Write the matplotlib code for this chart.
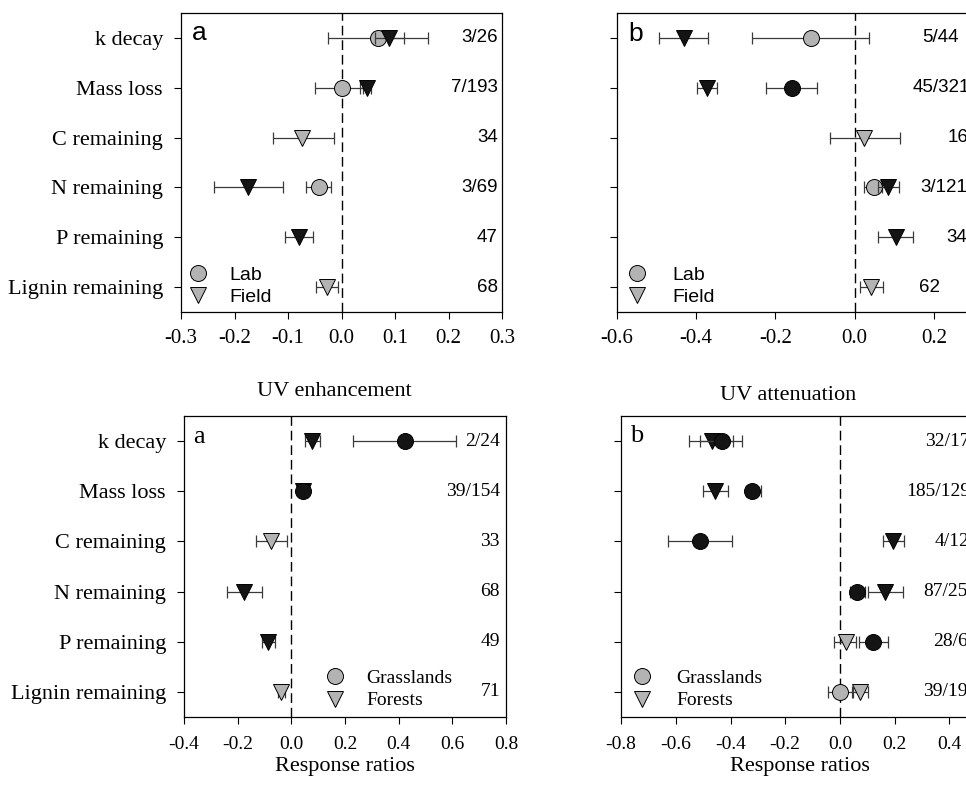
import numpy as np
import matplotlib
matplotlib.use("Agg")
import matplotlib.pyplot as plt
from matplotlib.lines import Line2D

nan = np.nan
SERIF = "Liberation Serif"
SANS = "Liberation Sans"

rows = ["k decay", "Mass loss", "C remaining", "N remaining", "P remaining", "Lignin remaining"]

# top-left panel (a): Lab (circles) vs Field (triangles)
lab_a_mean = [0.068, 0.0, nan, -0.042, nan, nan]
lab_a_lo = [-0.025, -0.05, nan, -0.067, nan, nan]
lab_a_hi = [0.162, 0.04, nan, -0.019, nan, nan]
lab_a_sig = [False, False, False, False, False, False]
field_a_mean = [0.088, 0.047, -0.073, -0.175, -0.079, -0.027]
field_a_lo = [0.062, 0.035, -0.128, -0.239, -0.105, -0.047]
field_a_hi = [0.116, 0.056, -0.014, -0.109, -0.053, -0.006]
field_a_sig = [True, True, False, True, True, False]
counts_a = ["3/26", "7/193", "34", "3/69", "47", "68"]

# top-right panel (b)
lab_b_mean = [-0.111, -0.159, nan, 0.049, nan, nan]
lab_b_lo = [-0.26, -0.225, nan, 0.024, nan, nan]
lab_b_hi = [0.037, -0.095, nan, 0.07, nan, nan]
lab_b_sig = [False, True, False, False, False, False]
field_b_mean = [-0.431, -0.373, 0.024, 0.085, 0.104, 0.042]
field_b_lo = [-0.494, -0.397, -0.062, 0.06, 0.06, 0.014]
field_b_hi = [-0.371, -0.347, 0.115, 0.112, 0.148, 0.071]
field_b_sig = [True, True, False, True, True, False]
counts_b = ["5/44", "45/321", "16", "3/121", "34", "62"]

# bottom-left: UV enhancement, Grasslands (circles) vs Forests (triangles)
grass_a_mean = [0.424, 0.042, nan, nan, nan, nan]
grass_a_lo = [0.23, 0.03, nan, nan, nan, nan]
grass_a_hi = [0.615, 0.055, nan, nan, nan, nan]
grass_a_sig = [True, True, False, False, False, False]
forest_a_mean = [0.077, 0.045, -0.076, -0.176, -0.086, -0.037]
forest_a_lo = [0.052, 0.035, -0.131, -0.24, -0.11, -0.05]
forest_a_hi = [0.107, 0.055, -0.017, -0.11, -0.062, -0.022]
forest_a_sig = [True, True, False, True, True, False]
counts_c = ["2/24", "39/154", "33", "68", "49", "71"]

# bottom-right: UV attenuation
grass_b_mean = [-0.432, -0.32, -0.511, 0.063, 0.122, 0.0]
grass_b_lo = [-0.51, -0.345, -0.627, 0.035, 0.07, -0.043]
grass_b_hi = [-0.359, -0.29, -0.396, 0.09, 0.176, 0.046]
grass_b_sig = [True, True, True, True, True, False]
forest_b_mean = [-0.468, -0.455, 0.195, 0.164, 0.021, 0.073]
forest_b_lo = [-0.55, -0.50, 0.156, 0.101, -0.022, 0.043]
forest_b_hi = [-0.39, -0.408, 0.235, 0.231, 0.06, 0.103]
forest_b_sig = [True, True, True, True, False, False]
counts_d = ["32/17", "185/129", "4/12", "87/25", "28/6", "39/19"]

GREY = "#b3b3b3"
BLACK = "#141414"


def draw_series(ax, mean, lo, hi, sig, marker, z):
    for i, (m, l, h, s) in enumerate(zip(mean, lo, hi, sig)):
        if np.isnan(m):
            continue
        ax.errorbar([m], [i], xerr=[[m - l], [h - m]], fmt="none", ecolor="#3a3a3a",
                    elinewidth=0.9, capsize=4.5, capthick=0.9, zorder=z)
        ax.plot([m], [i], marker=marker, ls="none", ms=11.5,
                mfc=BLACK if s else GREY, mec="black", mew=0.7, zorder=z + 1)


def setup(ax, xlim, ticks, show_labels, tick_pad, tick_size):
    ax.set_xlim(*xlim)
    ax.set_ylim(5.5, -0.5)
    ax.axvline(0, color="black", lw=1.0, ls=(0, (7, 3.5)), zorder=1)
    ax.set_xticks(ticks)
    ax.set_xticklabels(["%.1f" % (round(t, 1) + 0.0) for t in ticks],
                       fontfamily=SERIF, fontsize=tick_size)
    ax.set_yticks(range(len(rows)))
    if show_labels:
        ax.set_yticklabels(rows, fontfamily=SERIF, fontsize=16)
    else:
        ax.set_yticklabels([])
    ax.tick_params(axis="both", direction="out", length=5, width=0.8)
    ax.tick_params(axis="x", pad=tick_pad)
    ax.tick_params(axis="y", pad=8)
    for sp in ax.spines.values():
        sp.set_linewidth(0.9)


def legend(ax, labels, x, y, font, pad):
    h = [Line2D([], [], marker="o", ls="none", ms=11.5, mfc=GREY, mec="black", mew=0.7),
         Line2D([], [], marker="v", ls="none", ms=11.5, mfc=GREY, mec="black", mew=0.7)]
    ax.legend(h, labels, loc="lower left", bbox_to_anchor=(x, y), frameon=False,
              prop={"family": font, "size": 14}, handlelength=1.0, handletextpad=pad,
              labelspacing=0.25, borderpad=0, borderaxespad=0)


fig = plt.figure(figsize=(9.66, 7.85), dpi=100)

# top-left
ax1 = fig.add_axes([181 / 966, 1 - 312 / 785, 321 / 966, 299 / 785])
setup(ax1, (-0.3, 0.3), np.arange(-0.3, 0.31, 0.1), True, 7.5, 15)
draw_series(ax1, lab_a_mean, lab_a_lo, lab_a_hi, lab_a_sig, "o", 2)
draw_series(ax1, field_a_mean, field_a_lo, field_a_hi, field_a_sig, "v", 4)
for i, c in enumerate(counts_a):
    ax1.text(0.9875, i, c, transform=ax1.get_yaxis_transform(), ha="right", va="center",
             fontfamily=SANS, fontsize=13.5)
ax1.text(0.033, 0.933, "a", transform=ax1.transAxes, ha="left", va="center",
         fontfamily=SANS, fontsize=19)
legend(ax1, ["Lab", "Field"], 0.022, 0.02, SANS, 1.15)

# top-right
ax2 = fig.add_axes([617 / 966, 1 - 312 / 785, 396 / 966, 299 / 785])
setup(ax2, (-0.6, 0.4), np.arange(-0.6, 0.41, 0.2), False, 7.5, 15)
draw_series(ax2, lab_b_mean, lab_b_lo, lab_b_hi, lab_b_sig, "o", 2)
draw_series(ax2, field_b_mean, field_b_lo, field_b_hi, field_b_sig, "v", 4)
count_x_b = [0.171, 0.146, 0.235, 0.167, 0.232, 0.163]
for i, c in enumerate(counts_b):
    ax2.text(count_x_b[i], i, c, ha="left", va="center", fontfamily=SANS, fontsize=13.5)
ax2.text(0.029, 0.93, "b", transform=ax2.transAxes, ha="left", va="center",
         fontfamily=SANS, fontsize=19)
legend(ax2, ["Lab", "Field"], 0.025, 0.02, SANS, 1.35)

# bottom-left
ax3 = fig.add_axes([184 / 966, 1 - 717 / 785, 322 / 966, 301 / 785])
setup(ax3, (-0.4, 0.8), np.arange(-0.4, 0.81, 0.2), True, 9, 14)
draw_series(ax3, forest_a_mean, forest_a_lo, forest_a_hi, forest_a_sig, "v", 2)
draw_series(ax3, grass_a_mean, grass_a_lo, grass_a_hi, grass_a_sig, "o", 4)
for i, c in enumerate(counts_c):
    ax3.text(0.981, i, c, transform=ax3.get_yaxis_transform(), ha="right", va="center",
             fontfamily=SERIF, fontsize=14)
ax3.text(0.028, 0.93, "a", transform=ax3.transAxes, ha="left", va="center",
         fontfamily=SERIF, fontsize=19)
legend(ax3, ["Grasslands", "Forests"], 0.44, 0.025, SERIF, 1.1)

# bottom-right
ax4 = fig.add_axes([621 / 966, 1 - 717 / 785, 438 / 966, 301 / 785])
setup(ax4, (-0.8, 0.8), np.arange(-0.8, 0.81, 0.2), False, 9, 14)
draw_series(ax4, forest_b_mean, forest_b_lo, forest_b_hi, forest_b_sig, "v", 2)
draw_series(ax4, grass_b_mean, grass_b_lo, grass_b_hi, grass_b_sig, "o", 4)
count_x_d = [0.31, 0.241, 0.347, 0.303, 0.339, 0.303]
for i, c in enumerate(counts_d):
    ax4.text(count_x_d[i], i, c, ha="left", va="center", fontfamily=SERIF, fontsize=14)
ax4.text(0.02, 0.935, "b", transform=ax4.transAxes, ha="left", va="center",
         fontfamily=SERIF, fontsize=19)
legend(ax4, ["Grasslands", "Forests"], 0.025, 0.025, SERIF, 1.3)

fig.text(334 / 966, 1 - 392 / 785, "UV enhancement", ha="center", va="center",
         fontfamily=SERIF, fontsize=16)
fig.text(788 / 966, 1 - 396 / 785, "UV attenuation", ha="center", va="center",
         fontfamily=SERIF, fontsize=16)
fig.text(345 / 966, 1 - 766 / 785, "Response ratios", ha="center", va="center",
         fontfamily=SERIF, fontsize=16)
fig.text(800 / 966, 1 - 766 / 785, "Response ratios", ha="center", va="center",
         fontfamily=SERIF, fontsize=16)

fig.savefig("out.png", dpi=100)
